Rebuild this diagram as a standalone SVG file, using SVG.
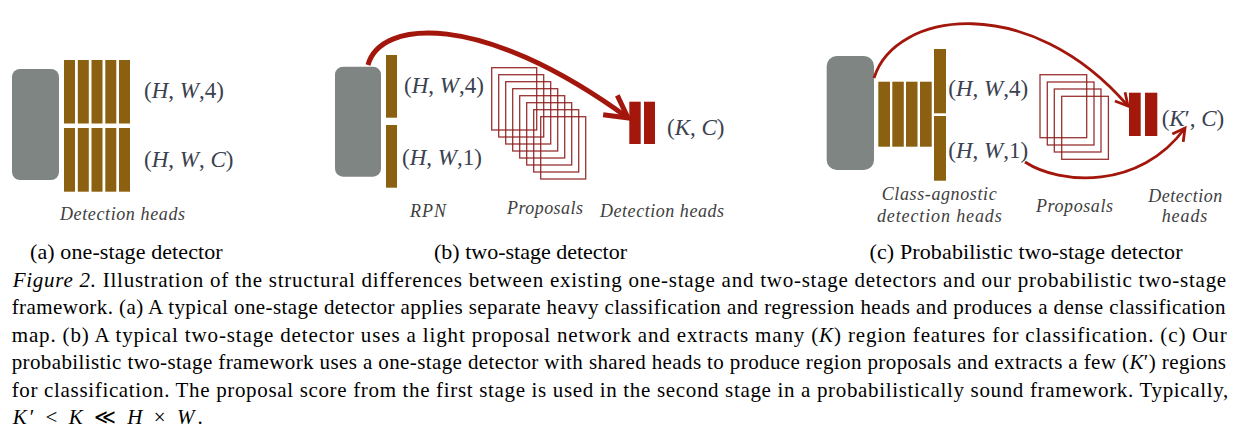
<svg xmlns="http://www.w3.org/2000/svg" width="1249" height="445" viewBox="0 0 1249 445">
<style>
.bb{fill:#8b6011}
.gr{fill:#7f8583}
.rd{fill:#a3180a}
.pr{fill:none;stroke:#8e1c1c;stroke-width:1.3;opacity:0.9}
.math{font-family:"Liberation Serif","Times New Roman",serif;font-size:23px;fill:#3b4150}
.i{font-style:italic}
.lab{font-family:"Liberation Serif","Times New Roman",serif;font-size:18px;font-style:italic;fill:#404040}
.cap{font-family:"Liberation Serif","Times New Roman",serif;font-size:22px;fill:#000}
.cl{font-family:"Liberation Serif","Times New Roman",serif;font-size:21px;fill:#000}
.arr{fill:none;stroke:#a3160b;stroke-linecap:butt}
</style>
<defs>
<marker id="chev" viewBox="-6 -4 8 8" markerWidth="8" markerHeight="8" refX="0" refY="0" orient="auto" markerUnits="strokeWidth" overflow="visible">
<path d="M-4.4,-2.4 L0,0 L-4.4,2.4" fill="none" stroke="#a3160b" stroke-width="1" stroke-linejoin="miter"/>
</marker>
</defs>

<g id="panel-a">
<g id="a-backbone"><rect class="gr" x="12" y="69" width="47" height="111" rx="8"/></g>
<g id="a-heads">
<rect class="bb" x="64" y="60" width="11" height="63.5"/>
<rect class="bb" x="77.8" y="60" width="11" height="63.5"/>
<rect class="bb" x="91.5" y="60" width="11" height="63.5"/>
<rect class="bb" x="105.3" y="60" width="11" height="63.5"/>
<rect class="bb" x="119" y="60" width="11" height="63.5"/>
<rect class="bb" x="64" y="128" width="11" height="63.7"/>
<rect class="bb" x="77.8" y="128" width="11" height="63.7"/>
<rect class="bb" x="91.5" y="128" width="11" height="63.7"/>
<rect class="bb" x="105.3" y="128" width="11" height="63.7"/>
<rect class="bb" x="119" y="128" width="11" height="63.7"/>
</g>
<text class="math" x="144" y="98.3">(<tspan class="i">H</tspan>, <tspan class="i">W</tspan>,4)</text>
<text class="math" x="144" y="166.7">(<tspan class="i">H</tspan>, <tspan class="i">W</tspan>, <tspan class="i">C</tspan>)</text>
<text class="lab" x="60" y="220" textLength="125" lengthAdjust="spacing">Detection heads</text>
</g>

<g id="panel-b">
<g id="b-backbone"><rect class="gr" x="335" y="66.7" width="46" height="110" rx="8"/></g>
<g id="b-rpn">
<rect class="bb" x="386" y="55" width="11" height="62.7"/>
<rect class="bb" x="386" y="125" width="11" height="62.7"/>
</g>
<text class="math" x="404" y="92.5">(<tspan class="i">H</tspan>, <tspan class="i">W</tspan>,4)</text>
<text class="math" x="402" y="165">(<tspan class="i">H</tspan>, <tspan class="i">W</tspan>,1)</text>
<g id="b-proposals">
<rect class="pr" x="491.7" y="67.7" width="45" height="62.3"/>
<rect class="pr" x="498.7" y="74.7" width="45" height="62.3"/>
<rect class="pr" x="505.7" y="81.7" width="45" height="62.3"/>
<rect class="pr" x="512.7" y="88.7" width="45" height="62.3"/>
<rect class="pr" x="519.7" y="95.7" width="45" height="62.3"/>
<rect class="pr" x="526.7" y="102.7" width="45" height="62.3"/>
<rect class="pr" x="533.7" y="109.7" width="45" height="62.3"/>
<rect class="pr" x="540.7" y="116.7" width="45" height="62.3"/>
</g>
<g id="b-dethead">
<rect class="rd" x="629.3" y="101.7" width="11.4" height="42.3"/>
<rect class="rd" x="644" y="101.7" width="11" height="42.3"/>
</g>
<text class="math" x="667" y="134.5">(<tspan class="i">K</tspan>, <tspan class="i">C</tspan>)</text>
<text class="lab" x="410" y="216.7" textLength="36" lengthAdjust="spacing">RPN</text>
<text class="lab" x="507" y="213.5" textLength="76" lengthAdjust="spacing">Proposals</text>
<text class="lab" x="600" y="216.7" textLength="124" lengthAdjust="spacing">Detection heads</text>
</g>

<g id="panel-c">
<g id="c-backbone"><rect class="gr" x="826.7" y="56" width="47.3" height="114" rx="10"/></g>
<g id="c-heads">
<rect class="bb" x="878.3" y="81.7" width="11.7" height="65"/>
<rect class="bb" x="892.3" y="81.7" width="11.5" height="65"/>
<rect class="bb" x="906" y="81.7" width="11.5" height="65"/>
<rect class="bb" x="920" y="81.7" width="11.7" height="65"/>
<rect class="bb" x="934" y="49" width="12" height="64.3"/>
<rect class="bb" x="934" y="116" width="12" height="64.7"/>
</g>
<text class="math" x="948.3" y="95.5">(<tspan class="i">H</tspan>, <tspan class="i">W</tspan>,4)</text>
<text class="math" x="948.3" y="158.3">(<tspan class="i">H</tspan>, <tspan class="i">W</tspan>,1)</text>
<g id="c-proposals">
<rect class="pr" x="1040" y="74.7" width="46.7" height="63"/>
<rect class="pr" x="1047.3" y="82" width="46.7" height="63"/>
<rect class="pr" x="1054.3" y="89" width="46.7" height="63"/>
<rect class="pr" x="1061.7" y="96.3" width="46.7" height="63"/>
</g>
<g id="c-dethead">
<rect class="rd" x="1129" y="92.7" width="11.7" height="43.3"/>
<rect class="rd" x="1145" y="92.7" width="12.3" height="43.3"/>
</g>
<text class="math" x="1161.7" y="125.5">(<tspan class="i">K</tspan>′, <tspan class="i">C</tspan>)</text>
<text class="lab" x="881.7" y="200" textLength="115" lengthAdjust="spacing">Class-agnostic</text>
<text class="lab" x="877" y="221.7" textLength="124.7" lengthAdjust="spacing">detection heads</text>
<text class="lab" x="1036" y="211.7" textLength="77" lengthAdjust="spacing">Proposals</text>
<text class="lab" x="1148.3" y="201.7" textLength="74" lengthAdjust="spacing">Detection</text>
<text class="lab" x="1161.7" y="221.7" textLength="45.6" lengthAdjust="spacing">heads</text>
</g>

<g id="connectors">
<path class="arr" stroke-width="5" d="M368,65 C380,20 480,10 628,118" marker-end="url(#chev)"/>
<path class="arr" stroke-width="2.8" d="M874,78 C895,10 1030,-8 1128,106" marker-end="url(#chev)"/>
<path class="arr" stroke-width="2.8" d="M1025,162 C1060,185 1140,190 1185,128" marker-end="url(#chev)"/>
</g>

<g id="subcaptions">
<text class="cap" x="30" y="258.5" textLength="192.7" lengthAdjust="spacing">(a) one-stage detector</text>
<text class="cap" x="434" y="258.5" textLength="193" lengthAdjust="spacing">(b) two-stage detector</text>
<text class="cap" x="869.5" y="258.5" textLength="313" lengthAdjust="spacing">(c) Probabilistic two-stage detector</text>
</g>

<g id="caption">
<text class="cl" x="12.7" y="286.5" textLength="1213.5" lengthAdjust="spacing"><tspan class="i">Figure 2.</tspan> Illustration of the structural differences between existing one-stage and two-stage detectors and our probabilistic two-stage</text>
<text class="cl" x="11.7" y="314" textLength="1213.8" lengthAdjust="spacing">framework. (a) A typical one-stage detector applies separate heavy classification and regression heads and produces a dense classification</text>
<text class="cl" x="11.7" y="341.5" textLength="1215" lengthAdjust="spacing">map. (b) A typical two-stage detector uses a light proposal network and extracts many (<tspan class="i">K</tspan>) region features for classification. (c) Our</text>
<text class="cl" x="11.7" y="369" textLength="1214.3" lengthAdjust="spacing">probabilistic two-stage framework uses a one-stage detector with shared heads to produce region proposals and extracts a few (<tspan class="i">K</tspan>′) regions</text>
<text class="cl" x="11.7" y="396.5" textLength="1216.6" lengthAdjust="spacing">for classification. The proposal score from the first stage is used in the second stage in a probabilistically sound framework. Typically,</text>
<text class="cl" x="12.7" y="424" textLength="190" lengthAdjust="spacing"><tspan class="i">K</tspan>′ &lt; <tspan class="i">K</tspan> ≪ <tspan class="i">H</tspan> × <tspan class="i">W</tspan>.</text>
</g>
</svg>
